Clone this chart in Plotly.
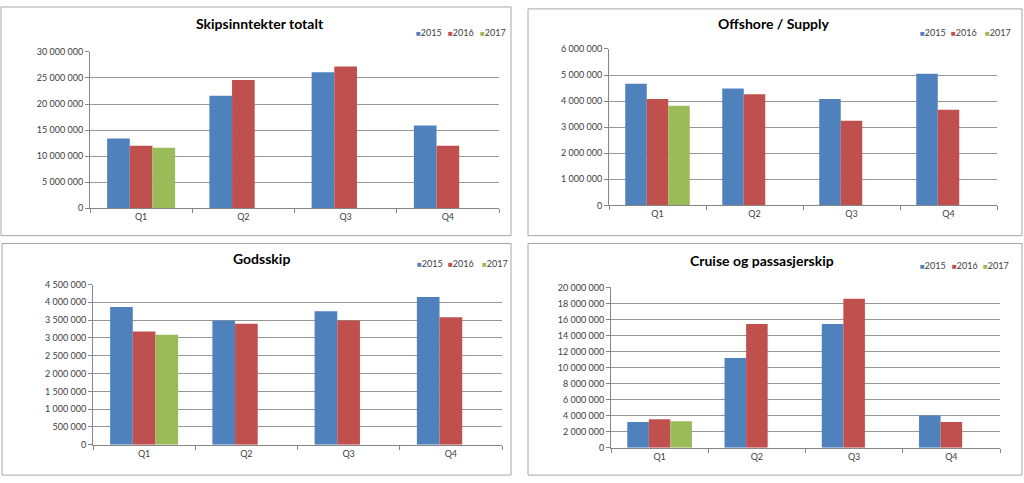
import plotly.graph_objects as go

W, H = 1024, 483

quarters = ["Q1", "Q2", "Q3", "Q4"]
years = ["2015", "2016", "2017"]
colors = ["#4F81BD", "#C0504D", "#9BBB59"]

titles = ["Skipsinntekter totalt", "Offshore / Supply", "Godsskip", "Cruise og passasjerskip"]

tot_2015 = [13400000, 21600000, 26100000, 15900000]
tot_2016 = [12000000, 24600000, 27200000, 12000000]
tot_2017 = [11600000, None, None, None]

off_2015 = [4670000, 4480000, 4080000, 5050000]
off_2016 = [4080000, 4260000, 3250000, 3670000]
off_2017 = [3820000, None, None, None]

gods_2015 = [3870000, 3490000, 3750000, 4150000]
gods_2016 = [3180000, 3400000, 3490000, 3580000]
gods_2017 = [3090000, None, None, None]

cru_2015 = [3210000, 11180000, 15450000, 4020000]
cru_2016 = [3540000, 15450000, 18600000, 3210000]
cru_2017 = [3290000, None, None, None]

series = [
    [tot_2015, tot_2016, tot_2017],
    [off_2015, off_2016, off_2017],
    [gods_2015, gods_2016, gods_2017],
    [cru_2015, cru_2016, cru_2017],
]
y_max = [30000000, 6000000, 4500000, 20000000]
y_step = [5000000, 1000000, 500000, 2000000]

# pixel layout: plot area (x0, x1, ytop, ybottom)
plot_px = [(90, 499, 47, 207), (609, 997, 44, 204), (93, 502, 285, 449), (611, 1000, 288, 452)]
border_px = [(1, 511, 1, 235), (528, 1022, 3, 235), (2, 511, 243, 480), (528, 1022, 243, 480)]
title_px = [(260, 18), (774, 18), (261, 258), (762, 260)]
legend_px = [[(414, 27), (446, 27), (478, 27)], [(918, 27), (949, 27), (983, 27)],
             [(415, 263), (446, 263), (480, 263)], [(918, 266), (950, 266), (981, 266)]]

def px(x):
    return x / W

def py(y):
    return 1 - y / H

FONT = "Lato, 'Open Sans', sans-serif"

fig = go.Figure()
layout = dict(
    width=W, height=H, margin=dict(l=0, r=0, t=0, b=0),
    paper_bgcolor="white", plot_bgcolor="white",
    barmode="group", bargap=0.335, bargroupgap=0,
    separators=", ", showlegend=False,
    font=dict(family=FONT, size=9, color="#404040"),
)
shapes, annotations = [], []

for i in range(4):
    xa = "x" if i == 0 else f"x{i+1}"
    ya = "y" if i == 0 else f"y{i+1}"
    for j, yr in enumerate(years):
        fig.add_trace(go.Bar(x=quarters, y=series[i][j], name=yr, marker_color=colors[j],
                             marker_line_width=0, xaxis=xa, yaxis=ya))
    x0, x1, yt, yb = plot_px[i]
    xk = "xaxis" if i == 0 else f"xaxis{i+1}"
    yk = "yaxis" if i == 0 else f"yaxis{i+1}"
    layout[xk] = dict(domain=[px(x0), px(x1)], anchor=ya, showline=True, linecolor="#868686",
                      ticks="outside", tickson="boundaries", ticklen=4, tickcolor="#868686",
                      showgrid=False, tickfont=dict(size=9, color="#404040"), fixedrange=True)
    layout[yk] = dict(domain=[py(yb), py(yt)], anchor=xa, range=[0, y_max[i]], dtick=y_step[i],
                      tick0=0, tickformat=",.0f", showline=True, linecolor="#868686",
                      ticks="outside", ticklen=4, tickcolor="#868686",
                      showgrid=True, gridcolor="#969696", gridwidth=1, zeroline=False,
                      tickfont=dict(size=9, color="#404040"), fixedrange=True)
    bx0, bx1, by0, by1 = border_px[i]
    shapes.append(dict(type="rect", xref="paper", yref="paper", x0=px(bx0), x1=px(bx1),
                       y0=py(by1), y1=py(by0), line=dict(color="#A6A6A6", width=1)))
    tx, ty = title_px[i]
    annotations.append(dict(xref="paper", yref="paper", x=px(tx), y=py(ty), xanchor="center",
                            yanchor="middle", showarrow=False, text=f"<b>{titles[i]}</b>",
                            font=dict(family=FONT, size=14, color="#000000")))
    for j, yr in enumerate(years):
        lx, ly = legend_px[i][j]
        annotations.append(dict(xref="paper", yref="paper", x=px(lx), y=py(ly), xanchor="left",
                                yanchor="middle", showarrow=False,
                                text=f"<span style='color:{colors[j]};font-size:8px'>■</span>{yr}",
                                font=dict(family=FONT, size=9, color="#404040")))

layout["shapes"] = shapes
layout["annotations"] = annotations
fig.update_layout(**layout)
fig.write_html("out.html", config={"displayModeBar": False},
               post_script="document.body.style.margin='0';document.body.style.overflow='hidden';")
